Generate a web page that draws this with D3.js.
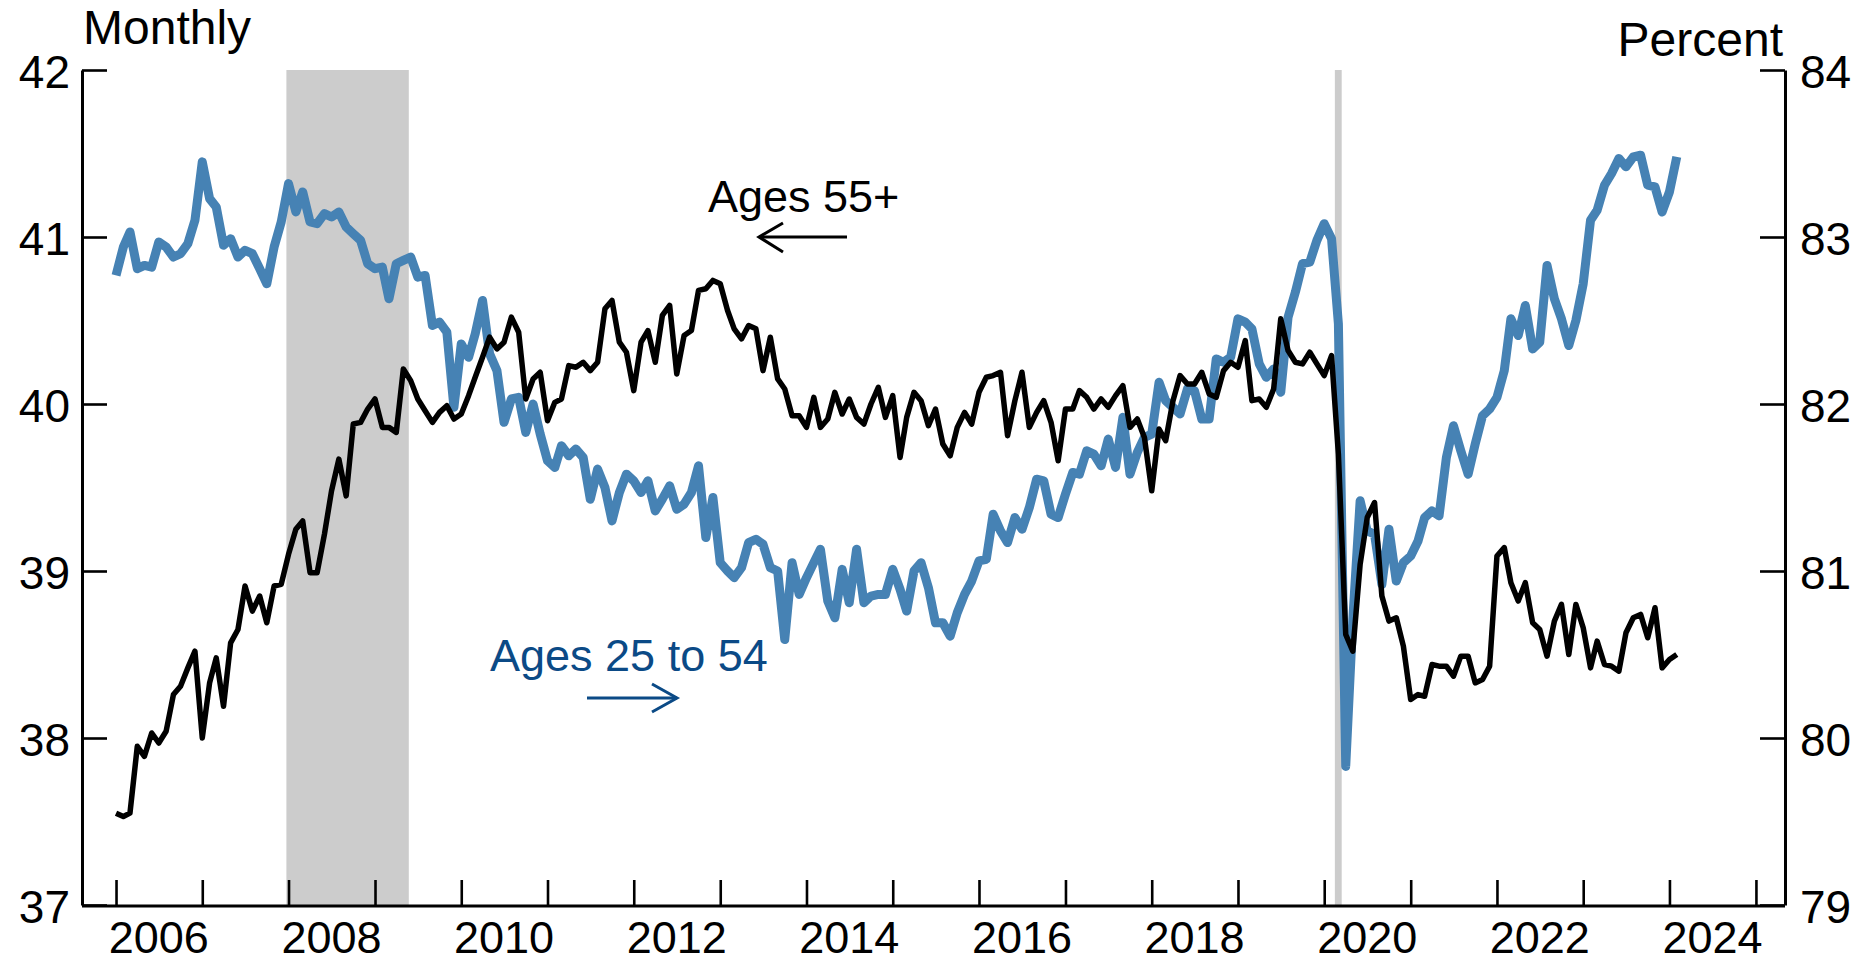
<!DOCTYPE html>
<html>
<head>
<meta charset="utf-8">
<script src="https://cdn.jsdelivr.net/npm/d3@7"></script>
<style>
html,body{margin:0;padding:0;background:#fff;}
svg{display:block;font-family:"Liberation Sans",Arial,Helvetica,sans-serif;}
</style>
</head>
<body>
<svg id="chart" width="1865" height="963"></svg>
<script>
// ---- data (monthly, Jan 2006 onward) ----
const startYear = 2006;
const primeAge = [ // Ages 25 to 54, right axis (percent)
82.77,82.94,83.03,82.81,82.83,82.82,82.97,82.94,82.88,82.90,82.96,83.10,
83.45,83.23,83.18,82.95,82.99,82.88,82.92,82.90,82.81,82.72,82.94,83.09,
83.32,83.15,83.27,83.09,83.08,83.14,83.12,83.15,83.06,83.02,82.98,82.84,
82.81,82.82,82.63,82.84,82.86,82.88,82.76,82.77,82.47,82.49,82.43,81.98,
82.36,82.28,82.42,82.62,82.30,82.20,81.89,82.03,82.04,81.83,82.00,81.82,
81.66,81.62,81.75,81.69,81.73,81.68,81.43,81.61,81.50,81.30,81.47,81.58,
81.54,81.47,81.54,81.36,81.43,81.51,81.37,81.40,81.47,81.63,81.20,81.44,
81.05,81.00,80.96,81.02,81.17,81.19,81.16,81.02,81.00,80.59,81.05,80.86,
80.96,81.05,81.13,80.82,80.72,81.01,80.81,81.13,80.81,80.85,80.86,80.86,
81.01,80.89,80.76,81.00,81.05,80.90,80.69,80.69,80.61,80.75,80.86,80.94,
81.06,81.07,81.34,81.24,81.17,81.32,81.25,81.38,81.55,81.54,81.34,81.32,
81.46,81.59,81.58,81.72,81.70,81.63,81.79,81.62,81.92,81.58,81.71,81.80,
81.82,82.13,82.02,81.98,81.94,82.09,82.08,81.91,81.91,82.27,82.25,82.28,
82.51,82.49,82.45,82.24,82.16,82.21,82.07,82.52,82.67,82.84,82.85,82.98,
83.08,82.99,82.48,79.83,80.71,81.42,81.24,81.22,80.92,81.25,80.94,81.05,
81.09,81.18,81.32,81.36,81.33,81.68,81.87,81.72,81.58,81.76,81.93,81.97,
82.04,82.20,82.51,82.41,82.59,82.33,82.37,82.83,82.63,82.51,82.35,82.50,
82.72,83.10,83.16,83.31,83.38,83.47,83.42,83.48,83.49,83.31,83.30,83.15,
83.27,83.48
];
const age55plus = [ // Ages 55+, left axis (percent)
37.55,37.53,37.55,37.95,37.89,38.03,37.97,38.04,38.26,38.31,38.42,38.52,
38.00,38.33,38.48,38.19,38.57,38.65,38.91,38.76,38.85,38.69,38.91,38.92,
39.10,39.25,39.30,38.99,38.99,39.22,39.48,39.67,39.45,39.88,39.89,39.97,
40.03,39.86,39.86,39.83,40.21,40.14,40.03,39.96,39.89,39.95,39.99,39.91,
39.94,40.05,40.16,40.28,40.40,40.33,40.37,40.52,40.43,40.03,40.15,40.19,
39.90,40.01,40.03,40.23,40.22,40.25,40.20,40.25,40.57,40.62,40.37,40.31,
40.08,40.37,40.44,40.25,40.53,40.59,40.18,40.41,40.44,40.68,40.69,40.74,
40.72,40.56,40.45,40.39,40.47,40.45,40.20,40.40,40.15,40.09,39.93,39.93,
39.86,40.04,39.86,39.91,40.07,39.94,40.03,39.92,39.88,40.00,40.10,39.92,
40.05,39.68,39.92,40.07,40.02,39.87,39.97,39.76,39.69,39.86,39.95,39.88,
40.07,40.16,40.17,40.19,39.81,40.02,40.19,39.86,39.95,40.02,39.89,39.66,
39.97,39.97,40.08,40.04,39.97,40.03,39.98,40.05,40.11,39.86,39.91,39.80,
39.48,39.85,39.78,40.02,40.17,40.12,40.12,40.19,40.06,40.04,40.20,40.25,
40.22,40.38,40.02,40.03,39.98,40.09,40.51,40.32,40.25,40.24,40.31,40.24,
40.17,40.29,39.70,38.62,38.52,39.04,39.32,39.41,38.85,38.70,38.72,38.55,
38.23,38.26,38.25,38.44,38.43,38.43,38.37,38.49,38.49,38.33,38.35,38.43,
39.09,39.14,38.93,38.82,38.93,38.69,38.65,38.49,38.70,38.80,38.50,38.80,
38.66,38.42,38.58,38.44,38.43,38.40,38.63,38.72,38.74,38.60,38.78,38.42,
38.47,38.50
];
const recessionStarts = ["2007-12-23", "2020-02-15"];
const recessionEnds   = ["2009-05-24", "2020-03-15"];
const yearTicks  = [2006,2007,2008,2009,2010,2011,2012,2013,2014,2015,2016,2017,2018,2019,2020,2021,2022,2023,2024,2025];
const yearLabels = [2006,2008,2010,2012,2014,2016,2018,2020,2022,2024];
const leftTicks  = [37,38,39,40,41,42];
const rightTicks = [79,80,81,82,83,84];

// ---- layout ----
const svg = d3.select("#chart");
const L = 82, R = 1785, T = 70, B = 905;
const parse = d3.timeParse("%Y-%m-%d");
const x = d3.scaleTime().domain([new Date(2005,7,10), new Date(2025,4,4)]).range([L, R]);
const yL = d3.scaleLinear().domain([37,42]).range([B, T]);
const yR = d3.scaleLinear().domain([79,84]).range([B, T]);
const monthDate = i => new Date(startYear, i, 1);

// recession shading
svg.append("g").selectAll("rect")
  .data(recessionStarts.map((s,i)=>[parse(s), parse(recessionEnds[i])]))
  .join("rect")
  .attr("x", d => x(d[0]))
  .attr("width", d => x(d[1]) - x(d[0]))
  .attr("y", T).attr("height", B - T)
  .attr("fill", "#cccccc");

// lines
const linePrime = d3.line().x((d,i)=>x(monthDate(i))).y(d=>yR(d)).curve(d3.curveLinear);
const lineOld = d3.line().x((d,i)=>x(monthDate(i))).y(d=>yL(d)).curve(d3.curveLinear);
svg.append("path").datum(primeAge).attr("d", linePrime)
  .attr("fill","none").attr("stroke","#4682b4").attr("stroke-width",9)
  .attr("stroke-linejoin","round");
svg.append("path").datum(age55plus).attr("d", lineOld)
  .attr("fill","none").attr("stroke","#000").attr("stroke-width",5.5)
  .attr("stroke-linejoin","round");

// axes
const fs = 46;
const gL = svg.append("g").attr("transform",`translate(${L},0)`)
  .call(d3.axisLeft(yL).tickValues(leftTicks).tickSizeInner(-25).tickSizeOuter(0).tickPadding(12).tickFormat(d3.format("d")));
const gR = svg.append("g").attr("transform",`translate(${R},0)`)
  .call(d3.axisRight(yR).tickValues(rightTicks).tickSizeInner(-25).tickSizeOuter(0).tickPadding(15).tickFormat(d3.format("d")));
const gB = svg.append("g").attr("transform",`translate(0,${B+1})`)
  .call(d3.axisBottom(x).tickValues(yearTicks.map(y=>new Date(y,0,1))).tickSizeInner(-26).tickSizeOuter(0).tickFormat(""));
[gL,gR,gB].forEach(g=>{
  g.select(".domain").attr("stroke","#000").attr("stroke-width",3);
  g.selectAll(".tick line").attr("stroke","#000").attr("stroke-width",2.6);
  g.selectAll(".tick text").attr("font-size",fs).attr("fill","#000")
    .attr("font-family","'Liberation Sans',Arial,sans-serif").attr("dy","0.38em");
});
gB.select(".domain").attr("d",`M${L},0H${R}`);

// year labels centred in each labelled year
svg.append("g").selectAll("text").data(yearLabels).join("text")
  .attr("x", d => x(new Date(d,6,1)))
  .attr("y", 953)
  .attr("text-anchor","middle")
  .attr("font-size",45)
  .text(d=>d);

// axis unit titles
svg.append("text").attr("x",L+1).attr("y",44).attr("font-size",48).text("Monthly");
svg.append("text").attr("x",R-2).attr("y",56).attr("font-size",48).attr("text-anchor","end").text("Percent");

// annotations
svg.append("text").attr("x",708).attr("y",212).attr("font-size",45).attr("fill","#000").text("Ages 55+");
const a1 = svg.append("g").attr("stroke","#000").attr("stroke-width",3).attr("fill","none");
a1.append("line").attr("x1",759).attr("x2",847).attr("y1",237).attr("y2",237);
a1.append("path").attr("d","M783,223L759,237L783,252");

const dblue = "#0b4a86";
svg.append("text").attr("x",490).attr("y",671).attr("font-size",45).attr("fill",dblue).text("Ages 25 to 54");
const a2 = svg.append("g").attr("stroke",dblue).attr("stroke-width",3).attr("fill","none");
a2.append("line").attr("x1",587).attr("x2",677).attr("y1",698).attr("y2",698);
a2.append("path").attr("d","M652,684L677,698L652,712");
</script>
</body>
</html>
